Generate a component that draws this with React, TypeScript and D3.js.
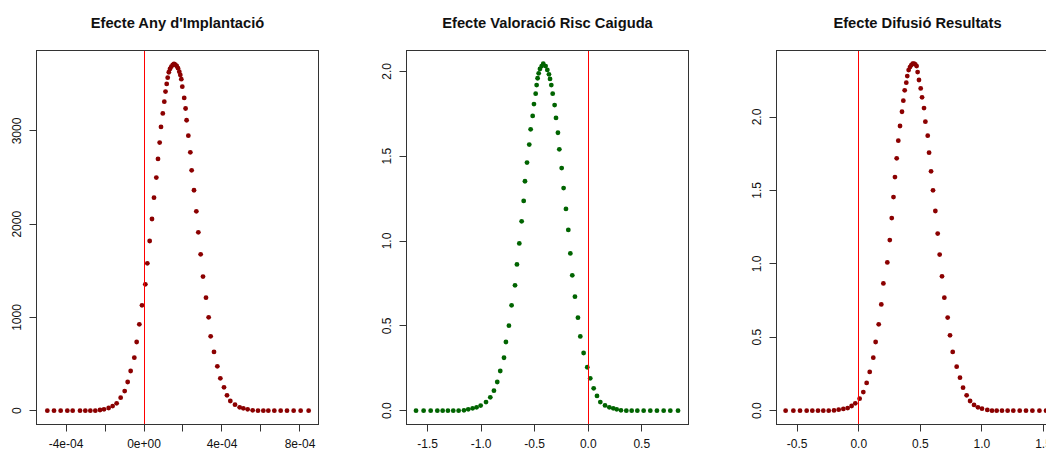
import React from "react";
import * as d3 from "d3";

// ---------- DATA ----------
const titles = [
  "Efecte Any d'Implantació",
  "Efecte Valoració Risc Caiguda",
  "Efecte Difusió Resultats",
];

// Panel 1: Efecte Any d'Implantació
const anyX = [
  -4.957e-4, -4.615e-4, -4.274e-4, -3.932e-4, -3.658e-4, -3.282e-4, -3.009e-4, -2.752e-4, -2.496e-4,
  -2.256e-4, -2.051e-4, -1.812e-4, -1.607e-4, -1.402e-4, -1.197e-4, -0.991e-4, -0.837e-4, -0.684e-4,
  -0.496e-4, -0.376e-4, -0.239e-4, -0.103e-4, 0.068e-4, 0.171e-4, 0.291e-4, 0.41e-4, 0.513e-4, 0.632e-4,
  0.718e-4, 0.803e-4, 0.872e-4, 0.964e-4, 1.041e-4, 1.103e-4, 1.164e-4, 1.215e-4, 1.272e-4, 1.333e-4,
  1.4e-4, 1.472e-4, 1.538e-4, 1.605e-4, 1.677e-4, 1.744e-4, 1.81e-4, 1.862e-4, 1.913e-4, 1.964e-4,
  2.062e-4, 2.133e-4, 2.185e-4, 2.274e-4, 2.376e-4, 2.444e-4, 2.564e-4, 2.684e-4, 2.786e-4, 2.906e-4,
  3.026e-4, 3.179e-4, 3.316e-4, 3.419e-4, 3.59e-4, 3.761e-4, 3.915e-4, 4.103e-4, 4.256e-4, 4.427e-4,
  4.667e-4, 4.906e-4, 5.094e-4, 5.316e-4, 5.573e-4, 5.846e-4, 6.12e-4, 6.376e-4, 6.684e-4, 7.009e-4,
  7.333e-4, 7.675e-4, 8.034e-4, 8.444e-4,
];
const anyY = [
  0, 0, 0, 0, 0, 0, 0, 0, 0,
  7.5, 14.7, 29, 50, 79, 140, 211, 308, 426, 569, 737, 926, 1130,
  1355, 1581, 1820, 2056, 2285, 2500, 2700, 2875,
  3043, 3188, 3314, 3422, 3504, 3572, 3630, 3665, 3690, 3708,
  3719, 3711, 3697, 3673, 3636, 3601, 3555, 3475, 3354, 3241,
  3115, 2950, 2771, 2578, 2364, 2138, 1913, 1677, 1438, 1212,
  1001, 798, 630, 476, 347, 251, 165, 104, 65, 36,
  25, 15, 4, 0, 0, 0, 0, 0, 0, 0, 0, 0,
];

// Panel 2: Efecte Valoració Risc Caiguda
const valX = [
  -1.609, -1.538, -1.472, -1.41, -1.36, -1.311, -1.261, -1.211, -1.161, -1.121, -1.08, -1.043, -1.005,
  -0.955, -0.915, -0.881, -0.85, -0.822, -0.787, -0.769, -0.741, -0.716, -0.684, -0.666, -0.644, -0.622,
  -0.603, -0.591, -0.572, -0.551, -0.538, -0.519, -0.507, -0.491, -0.482, -0.473, -0.463, -0.451, -0.435,
  -0.42, -0.398, -0.382, -0.367, -0.357, -0.345, -0.332, -0.314, -0.301, -0.283, -0.27, -0.248, -0.23,
  -0.208, -0.186, -0.167, -0.149, -0.124, -0.096, -0.074, -0.043, -0.009, 0.019, 0.051, 0.082, 0.113,
  0.157, 0.197, 0.234, 0.266, 0.306, 0.356, 0.406, 0.459, 0.518, 0.58, 0.642, 0.705, 0.767, 0.839,
];
const valY = [
  0, 0, 0, 0, 0, 0, 0, 0, 0.002, 0.008, 0.014, 0.02, 0.03, 0.051, 0.079, 0.118, 0.169, 0.234, 0.312,
  0.405, 0.501, 0.621, 0.739, 0.862, 0.986, 1.116, 1.236, 1.352, 1.462, 1.568, 1.658, 1.737, 1.807,
  1.868, 1.919, 1.959, 1.988, 2.014, 2.031, 2.045, 2.031, 2.008, 1.982, 1.955, 1.919, 1.868, 1.801,
  1.725, 1.638, 1.54, 1.43, 1.312, 1.189, 1.065, 0.927, 0.798, 0.672, 0.548, 0.438, 0.34, 0.256,
  0.191, 0.132, 0.087, 0.051, 0.031, 0.02, 0.014, 0.008, 0.002, 0, 0, 0, 0, 0, 0, 0, 0, 0,
];

// Panel 3: Efecte Difusió Resultats
const difX = [
  -0.594, -0.531, -0.477, -0.423, -0.377, -0.331, -0.288, -0.244, -0.201, -0.163, -0.125, -0.09, -0.058,
  -0.028, 0.007, 0.037, 0.064, 0.089, 0.118, 0.137, 0.162, 0.183, 0.2, 0.232, 0.252, 0.268, 0.282, 0.294,
  0.308, 0.321, 0.335, 0.351, 0.362, 0.373, 0.386, 0.394, 0.405, 0.416, 0.427, 0.438, 0.449, 0.459, 0.47,
  0.478, 0.489, 0.503, 0.514, 0.53, 0.541, 0.56, 0.571, 0.587, 0.603, 0.622, 0.641, 0.657, 0.676, 0.695,
  0.722, 0.741, 0.763, 0.795, 0.822, 0.847, 0.876, 0.904, 0.936, 0.968, 1.001, 1.044, 1.082, 1.12, 1.163,
  1.209, 1.255, 1.307, 1.358, 1.41, 1.467, 1.521,
];
const difY = [
  0, 0, 0, 0, 0, 0, 0, 0, 0.002, 0.007, 0.012, 0.018, 0.032, 0.05, 0.082, 0.127, 0.189, 0.264, 0.361,
  0.468, 0.588, 0.724, 0.867, 1.01, 1.162, 1.312, 1.455, 1.591, 1.719, 1.839, 1.939, 2.036, 2.111, 2.182,
  2.234, 2.279, 2.32, 2.34, 2.354, 2.363, 2.364, 2.359, 2.347, 2.306, 2.252, 2.195, 2.134, 2.061, 1.968,
  1.873, 1.757, 1.63, 1.501, 1.36, 1.206, 1.063, 0.915, 0.77, 0.634, 0.513, 0.4, 0.3, 0.225, 0.157, 0.105,
  0.066, 0.039, 0.023, 0.014, 0.005, 0, 0, 0, 0, 0, 0, 0, 0, 0, 0,
];

// Ticks
const anyXTicks = [-4e-4, -2e-4, 0, 2e-4, 4e-4, 6e-4, 8e-4];
const anyXTickLabels = ["-4e-04", "", "0e+00", "", "4e-04", "", "8e-04"];
const anyYTicks = [0, 1000, 2000, 3000];
const anyYTickLabels = ["0", "1000", "2000", "3000"];

const valXTicks = [-1.5, -1.0, -0.5, 0, 0.5];
const valXTickLabels = ["-1.5", "-1.0", "-0.5", "0.0", "0.5"];
const valYTicks = [0, 0.5, 1.0, 1.5, 2.0];
const valYTickLabels = ["0.0", "0.5", "1.0", "1.5", "2.0"];

const difXTicks = [-0.5, 0, 0.5, 1.0, 1.5];
const difXTickLabels = ["-0.5", "0.0", "0.5", "1.0", "1.5"];
const difYTicks = [0, 0.5, 1.0, 1.5, 2.0];
const difYTickLabels = ["0.0", "0.5", "1.0", "1.5", "2.0"];

// Axis limits (like xlim / ylim)
const anyXLim = [-5.513e-4, 8.949e-4];
const anyYLim = [-148, 3863];
const valXLim = [-1.698, 0.937];
const valYLim = [-0.0813, 2.1226];
const difXLim = [-0.668, 1.622];
const difYLim = [-0.094, 2.453];

// ---------- LAYOUT ----------
const WIDTH = 1046;
const HEIGHT = 450;
const BOX_W = 282;
const TOP = 50.5;
const BOTTOM = 424.5;
const FONT = "'Liberation Sans', Arial, Helvetica, sans-serif";

const panels = [
  {
    title: titles[0], left: 36.5, xs: anyX, ys: anyY, xLim: anyXLim, yLim: anyYLim,
    xTicks: anyXTicks, xLabels: anyXTickLabels, yTicks: anyYTicks, yLabels: anyYTickLabels,
    color: "#8B0000",
  },
  {
    title: titles[1], left: 406.5, xs: valX, ys: valY, xLim: valXLim, yLim: valYLim,
    xTicks: valXTicks, xLabels: valXTickLabels, yTicks: valYTicks, yLabels: valYTickLabels,
    color: "#006400",
  },
  {
    title: titles[2], left: 776.5, xs: difX, ys: difY, xLim: difXLim, yLim: difYLim,
    xTicks: difXTicks, xLabels: difXTickLabels, yTicks: difYTicks, yLabels: difYTickLabels,
    color: "#8B0000",
  },
];

function Panel({ p }: { p: any }) {
  const x = d3.scaleLinear().domain(p.xLim).range([p.left, p.left + BOX_W]);
  const y = d3.scaleLinear().domain(p.yLim).range([BOTTOM, TOP]);
  const zeroX = Math.round(x(0) - 0.5) + 0.5;
  return (
    <g>
      <text
        x={p.left + BOX_W / 2}
        y={28}
        textAnchor="middle"
        fontFamily={FONT}
        fontWeight="bold"
        fontSize={14.7}
        fill="#111"
      >
        {p.title}
      </text>
      {p.xs.map((v: number, i: number) => (
        <circle key={i} cx={x(v)} cy={y(p.ys[i])} r={2.4} fill={p.color} />
      ))}
      <line x1={zeroX} x2={zeroX} y1={TOP} y2={BOTTOM} stroke="#FF0000" strokeWidth={1} />
      <rect
        x={p.left}
        y={TOP}
        width={BOX_W}
        height={BOTTOM - TOP}
        fill="none"
        stroke="#333"
        strokeWidth={1}
      />
      {p.xTicks.map((t: number, i: number) => {
        const tx = Math.round(x(t) - 0.5) + 0.5;
        return (
          <g key={"xt" + i}>
            <line x1={tx} x2={tx} y1={BOTTOM} y2={BOTTOM + 7} stroke="#333" />
            {p.xLabels[i] ? (
              <text
                x={x(t)}
                y={448}
                textAnchor="middle"
                fontFamily={FONT}
                fontSize={12}
                fill="#111"
              >
                {p.xLabels[i]}
              </text>
            ) : null}
          </g>
        );
      })}
      {p.yTicks.map((t: number, i: number) => {
        const ty = Math.round(y(t) - 0.5) + 0.5;
        return (
          <g key={"yt" + i}>
            <line x1={p.left - 7} x2={p.left} y1={ty} y2={ty} stroke="#333" />
            <text
              transform={`translate(${p.left - 15.5},${y(t)}) rotate(-90)`}
              textAnchor="middle"
              fontFamily={FONT}
              fontSize={12}
              fill="#111"
            >
              {p.yLabels[i]}
            </text>
          </g>
        );
      })}
    </g>
  );
}

export default function App() {
  return (
    <div style={{ position: "absolute", left: 0, top: 0, width: WIDTH, height: HEIGHT, overflow: "hidden" }}>
      <svg width={WIDTH} height={HEIGHT} style={{ display: "block", background: "#fff" }}>
        <rect x={0} y={0} width={WIDTH} height={HEIGHT} fill="#fff" />
        {panels.map((p, i) => (
          <Panel key={i} p={p} />
        ))}
      </svg>
    </div>
  );
}
